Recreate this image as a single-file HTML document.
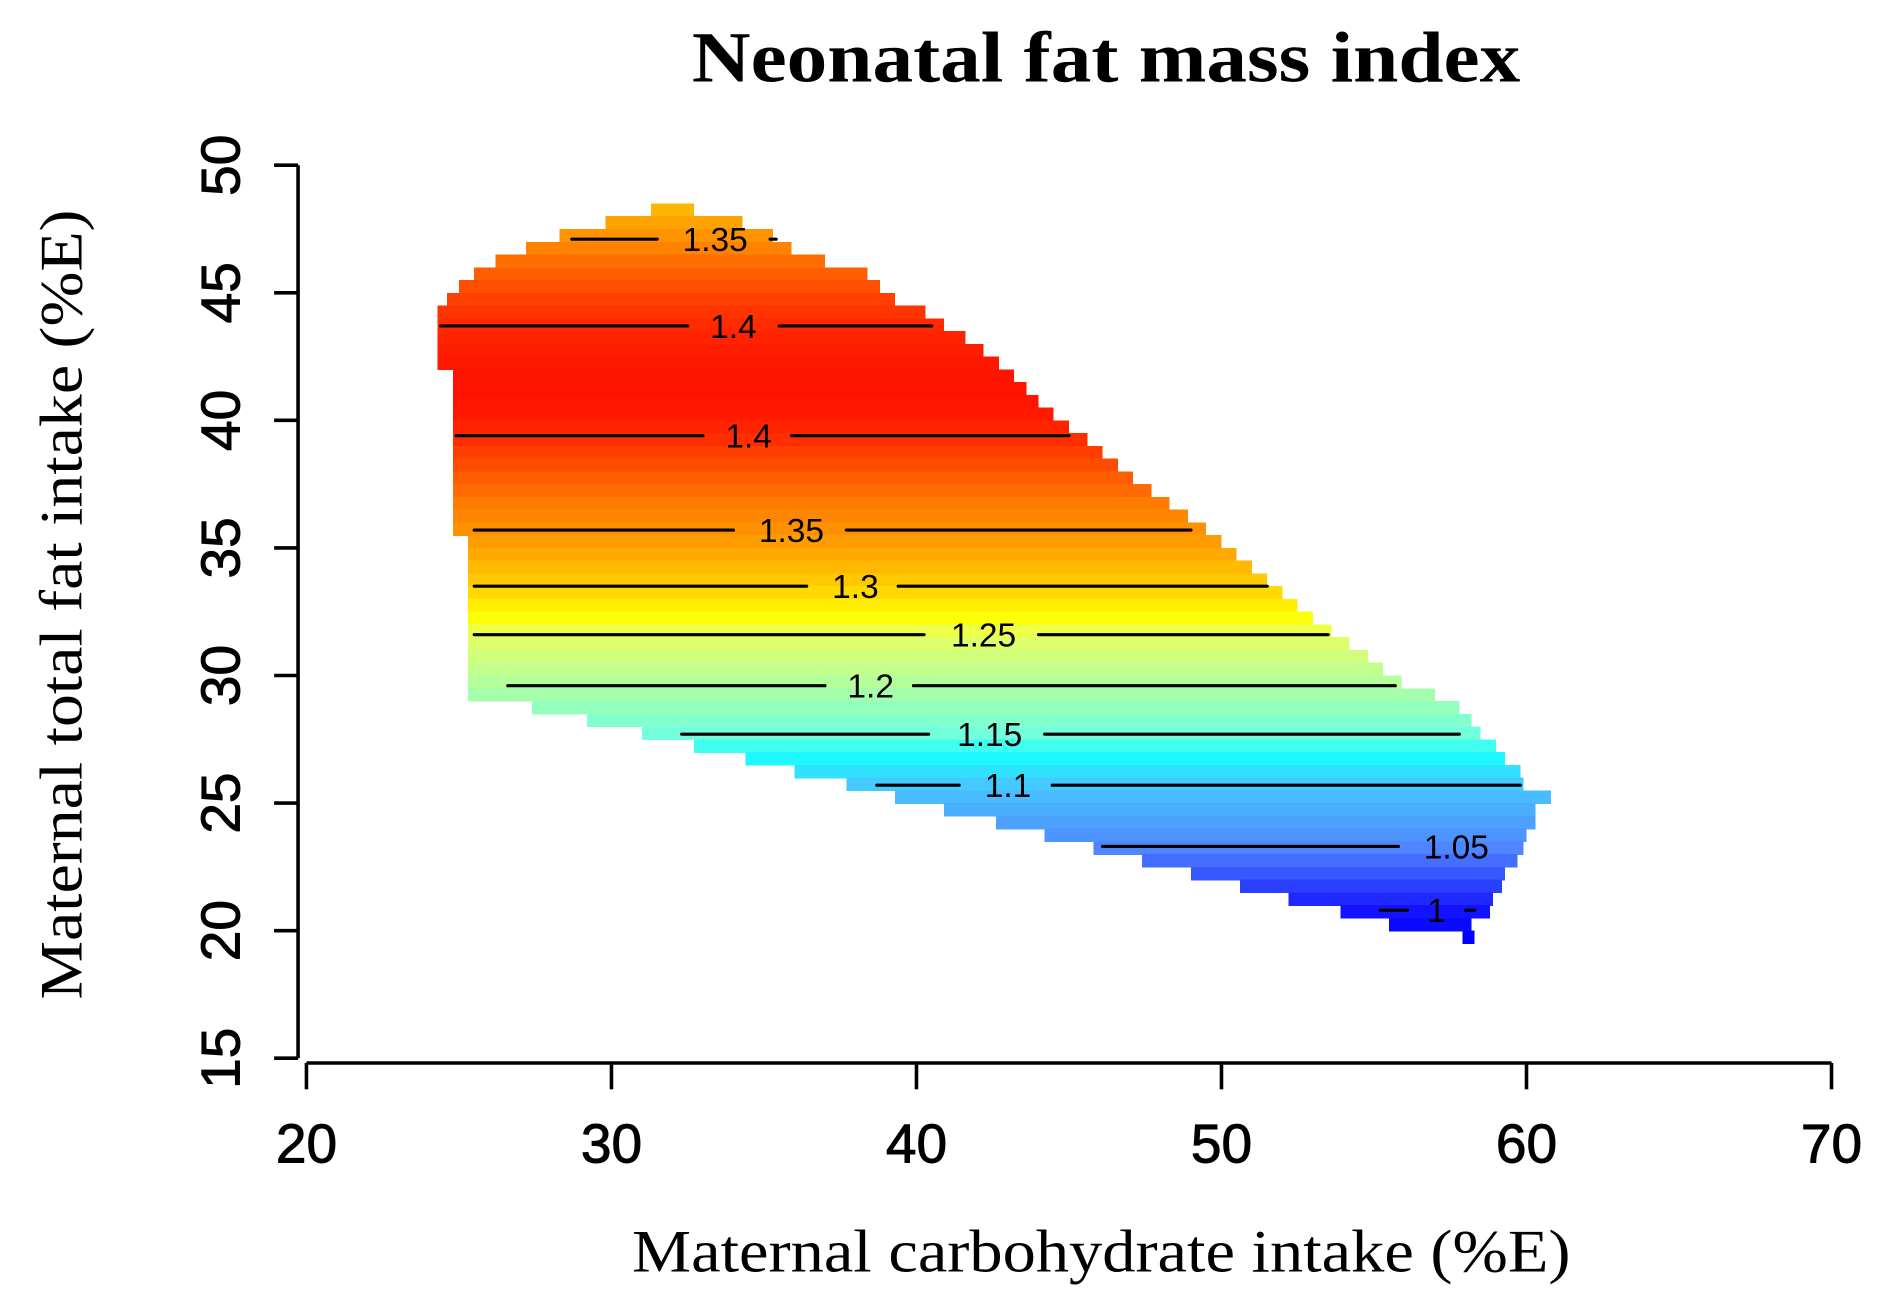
<!DOCTYPE html>
<html><head><meta charset="utf-8"><style>
html,body{margin:0;padding:0;background:#fff;}
svg{display:block;}
</style></head><body>
<svg id="chart" width="1877" height="1315" viewBox="0 0 1568 1098.5" xmlns="http://www.w3.org/2000/svg">
<rect width="1568" height="1098.5" fill="#fff"/>
<text x="578" y="68" textLength="692" lengthAdjust="spacingAndGlyphs" font-family="'Liberation Serif',serif" font-weight="bold" font-size="60">Neonatal fat mass index</text>
<text x="528" y="1062" textLength="784" lengthAdjust="spacingAndGlyphs" font-family="'Liberation Serif',serif" font-size="50">Maternal carbohydrate intake (%E)</text>
<text transform="translate(68,835) rotate(-90)" textLength="660" lengthAdjust="spacingAndGlyphs" font-family="'Liberation Serif',serif" font-size="50">Maternal total fat intake (%E)</text>
<g id="cells"></g>
<g id="contours"></g>
<g id="axes"></g>
</svg>
<script>
const xTicks = [20, 30, 40, 50, 60, 70];
const yTicks = [15, 20, 25, 30, 35, 40, 45, 50];
// rows: top fat value, carb min, carb max, fmi value (row height 0.5)
const rowTop = [48.5,48,47.5,47,46.5,46,45.5,45,44.5,44,43.5,43,42.5,42,41.5,41,40.5,40,39.5,39,38.5,38,37.5,37,36.5,36,35.5,35,34.5,34,33.5,33,32.5,32,31.5,31,30.5,30,29.5,29,28.5,28,27.5,27,26.5,26,25.5,25,24.5,24,23.5,23,22.5,22,21.5,21,20.5,20];
const rowMin = [31.3,29.8,28.3,27.2,26.2,25.5,25.0,24.6,24.3,24.3,24.3,24.3,24.3,24.8,24.8,24.8,24.8,24.8,24.8,24.8,24.8,24.8,24.8,24.8,24.8,24.8,25.3,25.3,25.3,25.3,25.3,25.3,25.3,25.3,25.3,25.3,25.3,25.3,25.3,27.4,29.2,31.0,32.7,34.4,36.0,37.7,39.3,40.9,42.6,44.2,45.8,47.4,49.0,50.6,52.2,53.9,55.5,57.9];
const rowMax = [32.7,34.3,35.3,35.9,37.0,38.4,38.8,39.3,40.3,40.9,41.6,42.2,42.7,43.2,43.6,44.0,44.5,45.0,45.6,46.1,46.6,47.1,47.7,48.3,48.9,49.5,50.0,50.5,51.0,51.5,52.0,52.5,53.0,53.6,54.2,54.8,55.3,55.9,57.0,57.8,58.2,58.5,59.0,59.3,59.8,59.9,60.8,60.3,60.3,60.0,59.9,59.7,59.3,59.2,58.9,58.8,58.2,58.3];
const rowFmi = [1.32,1.335,1.347,1.357,1.366,1.374,1.382,1.389,1.395,1.40,1.405,1.41,1.414,1.417,1.418,1.416,1.412,1.405,1.398,1.39,1.383,1.375,1.368,1.36,1.355,1.35,1.34,1.33,1.318,1.306,1.294,1.281,1.268,1.255,1.241,1.229,1.216,1.204,1.191,1.178,1.165,1.152,1.139,1.126,1.114,1.101,1.091,1.08,1.07,1.06,1.049,1.039,1.029,1.019,1.009,0.999,0.99,0.98];
// contours
const cLevel = ["1.35","1.4","1.4","1.35","1.3","1.25","1.2","1.15","1.1","1.05","1"];
const cFat = [47.1,43.7,39.4,35.7,33.5,31.6,29.6,27.7,25.7,23.3,20.8];
const cSeg1 = [[28.7,31.5],[24.4,32.5],[24.9,33.0],[25.5,34.0],[25.5,36.4],[25.5,40.25],[26.6,37.0],[32.3,40.4],[38.7,41.4],[46.1,55.8],[55.2,56.1]];
const cSeg2 = [[35.2,35.4],[35.5,40.5],[35.9,45.0],[37.7,49.0],[39.4,51.5],[44.0,53.5],[39.9,55.7],[44.2,57.8],[44.45,59.8],null,[58.0,58.3]];
const cLabelX = [33.4,34.0,34.5,35.9,38.0,42.2,38.5,42.4,43.0,57.7,57.05];

const X0=256, X1=1530, Y0=138, Y1=884;
const sx = v => X0 + (v-20)*(X1-X0)/50;
const sy = v => Y1 - (v-15)*(Y1-Y0)/35;
const NS="http://www.w3.org/2000/svg";
const stops=[[0.98,[0,0,255]],[1.0,[20,20,255]],[1.05,[80,135,255]],[1.1,[70,200,255]],[1.13,[24,255,255]],[1.15,[112,255,224]],[1.2,[176,255,160]],[1.25,[232,255,96]],[1.27,[255,255,0]],[1.3,[255,208,0]],[1.35,[255,144,0]],[1.4,[255,42,0]],[1.42,[255,16,0]]];
function color(v){
  if(v<=stops[0][0]) return 'rgb('+stops[0][1]+')';
  for(let i=1;i<stops.length;i++){ if(v<=stops[i][0]){const a=stops[i-1],b=stops[i];const t=(v-a[0])/(b[0]-a[0]);
    return 'rgb('+a[1].map((c,k)=>Math.round(c+(b[1][k]-c)*t)).join(',')+')';}}
  return 'rgb('+stops[stops.length-1][1]+')';
}
function mk(tag,attrs,parent){const e=document.createElementNS(NS,tag);for(const k in attrs)e.setAttribute(k,attrs[k]);parent.appendChild(e);return e;}
const cells=document.getElementById('cells');
for(let i=0;i<rowTop.length;i++){
  const r=mk('rect',{x:sx(rowMin[i]),y:sy(rowTop[i]),width:sx(rowMax[i])-sx(rowMin[i]),height:sy(rowTop[i]-0.5)-sy(rowTop[i])+0.6,fill:color(rowFmi[i]),'shape-rendering':'crispEdges'},cells);
  
  
}
const cont=document.getElementById('contours');
for(let i=0;i<cLevel.length;i++){
  const y=sy(cFat[i]);
  [cSeg1[i],cSeg2[i]].forEach(s=>{ if(!s) return;
    const l=mk('line',{x1:sx(s[0]),x2:sx(s[1]),y1:y,y2:y,stroke:'#000','stroke-width':2.6,'stroke-linecap':'round'},cont);
    
    
  });
  const t=mk('text',{x:sx(cLabelX[i]),y:y+10,'text-anchor':'middle','font-family':"'Liberation Sans',sans-serif",'font-size':28},cont);
  t.textContent=cLevel[i];
  
  
}
const ax=document.getElementById('axes');
let a=mk('line',{x1:249,x2:249,y1:sy(50),y2:sy(15),stroke:'#000','stroke-width':3},ax);


a=mk('line',{x1:sx(20),x2:sx(70),y1:888,y2:888,stroke:'#000','stroke-width':3},ax);


yTicks.forEach(v=>{
  const l=mk('line',{x1:229,x2:249,y1:sy(v),y2:sy(v),stroke:'#000','stroke-width':3},ax);
  
  
  const t=mk('text',{transform:'translate(200,'+sy(v)+') rotate(-90)','text-anchor':'middle','font-family':"'Liberation Sans',sans-serif",'font-size':46,stroke:'#000','stroke-width':0.8},ax);
  t.textContent=v;
  
  
});
xTicks.forEach(v=>{
  const l=mk('line',{x1:sx(v),x2:sx(v),y1:888,y2:910,stroke:'#000','stroke-width':3},ax);
  
  
  const t=mk('text',{x:sx(v),y:971,'text-anchor':'middle','font-family':"'Liberation Sans',sans-serif",'font-size':46,stroke:'#000','stroke-width':0.8},ax);
  t.textContent=v;
  
  
});
</script>
</body></html>
